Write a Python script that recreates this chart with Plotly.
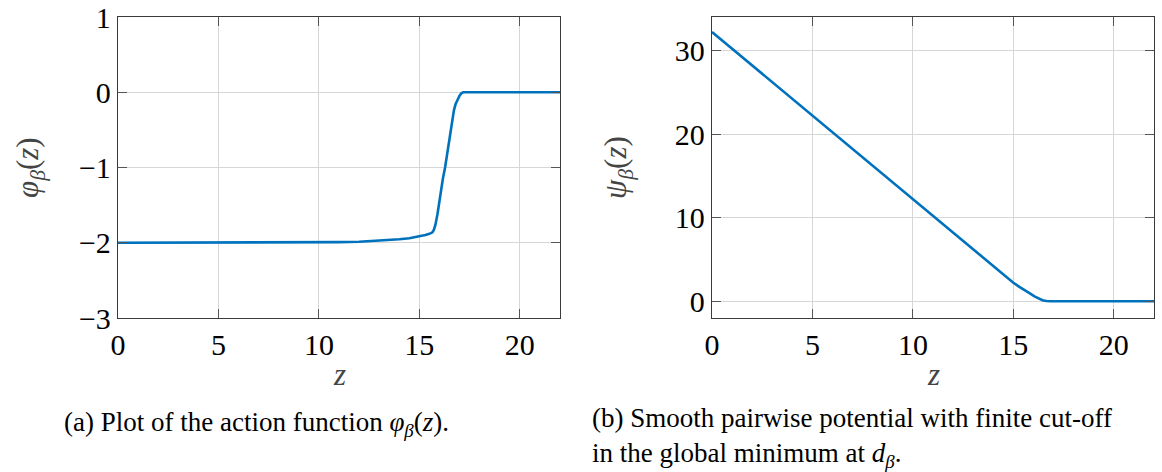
import plotly.graph_objects as go

# Action function phi_beta(z)
z_phi = [0, 4, 8, 9, 10, 11, 12, 13, 13.5, 14, 14.5, 15, 15.3, 15.5, 15.65,
         15.72, 15.8, 15.9, 15.98, 16.06, 16.17, 16.28, 16.38, 16.47, 16.56,
         16.64, 16.72, 16.8, 16.89, 17.0, 17.1, 17.19, 22]
phi = [-2.0, -2.0, -2.0, -1.998, -1.996, -1.992, -1.986, -1.974, -1.965,
       -1.954, -1.94, -1.918, -1.898, -1.882, -1.862, -1.83, -1.76, -1.62,
       -1.47, -1.31, -1.15, -1.0, -0.82, -0.64, -0.48, -0.34, -0.24, -0.16,
       -0.1, -0.045, -0.012, 0.0, 0.0]

# Pairwise potential psi_beta(z)
z_psi = [0, 14, 14.6, 15, 15.3, 15.55, 15.8, 16.05, 16.25, 16.45, 16.65, 16.85, 22]
psi = [32.2, 4.2, 3.0, 2.22, 1.72, 1.38, 0.98, 0.58, 0.3, 0.12, 0.03, 0.0, 0.0]

x_ticks = [0, 5, 10, 15, 20]
phi_ticks = [-3, -2, -1, 0, 1]
psi_ticks = [0, 10, 20, 30]

W, H = 1162, 472
FONT = "Liberation Serif"
BLUE = "#0072BD"

def px(x):
    return x / W

def py(y):
    return 1 - y / H

fig = go.Figure()
fig.add_trace(go.Scatter(x=z_phi, y=phi, mode="lines",
                         line=dict(color=BLUE, width=2.6),
                         xaxis="x", yaxis="y", showlegend=False))
fig.add_trace(go.Scatter(x=z_psi, y=psi, mode="lines",
                         line=dict(color=BLUE, width=2.6),
                         xaxis="x2", yaxis="y2", showlegend=False))

axis_common = dict(
    showline=True, linecolor="#3a3a3a", linewidth=1.4, mirror="ticks",
    ticks="inside", ticklen=9, tickwidth=1.2, tickcolor="#555555",
    showgrid=True, gridcolor="#d6d6d6", gridwidth=1, zeroline=False,
    automargin=False,
    tickfont=dict(family=FONT, size=30, color="black"),
)

fig.update_layout(
    template="none",
    width=W, height=H,
    margin=dict(l=0, r=0, t=0, b=0, pad=0),
    paper_bgcolor="white", plot_bgcolor="white",
    showlegend=False,
    xaxis=dict(domain=[px(118), px(560)], range=[0, 22], tickvals=x_ticks,
               anchor="y", **axis_common),
    yaxis=dict(domain=[py(318), py(17)], range=[-3, 1], tickvals=phi_ticks,
               ticktext=["\u22123", "\u22122", "\u22121", "0", "1"],
               anchor="x", **axis_common),
    xaxis2=dict(domain=[px(712), px(1154)], range=[0, 22], tickvals=x_ticks,
                anchor="y2", **axis_common),
    yaxis2=dict(domain=[py(318), py(17)], range=[-2, 34], tickvals=psi_ticks,
                anchor="x2", **axis_common),
)

title_font = dict(family=FONT, size=31, color="#444444")
cap_font = dict(family=FONT, size=27, color="black")

annotations = [
    dict(text="<i>z</i>", x=px(339), y=py(374), font=title_font),
    dict(text="<i>z</i>", x=px(933), y=py(374), font=title_font),
    dict(text="<i>\u03c6</i><sub><i>\u03b2</i></sub>(<i>z</i>)", x=px(30), y=py(168),
         textangle=-90, font=title_font),
    dict(text="<i>\u03c8</i><sub><i>\u03b2</i></sub>(<i>z</i>)", x=px(618), y=py(168),
         textangle=-90, font=title_font),
    dict(text="(a) Plot of the action function "
              "<i>\u03c6</i><sub><i>\u03b2</i></sub>(<i>z</i>).",
         x=px(62), y=py(424), xanchor="left", font=cap_font),
    dict(text="(b) Smooth pairwise potential with finite cut-off<br>"
              "in the global minimum at <i>d</i><sub><i>\u03b2</i></sub>.",
         x=px(590), y=py(437), xanchor="left", align="left", font=cap_font),
]
for a in annotations:
    a.setdefault("xanchor", "center")
    a.setdefault("yanchor", "middle")
    a.update(xref="paper", yref="paper", showarrow=False)
fig.update_layout(annotations=annotations)

fig.write_html("out.html")
